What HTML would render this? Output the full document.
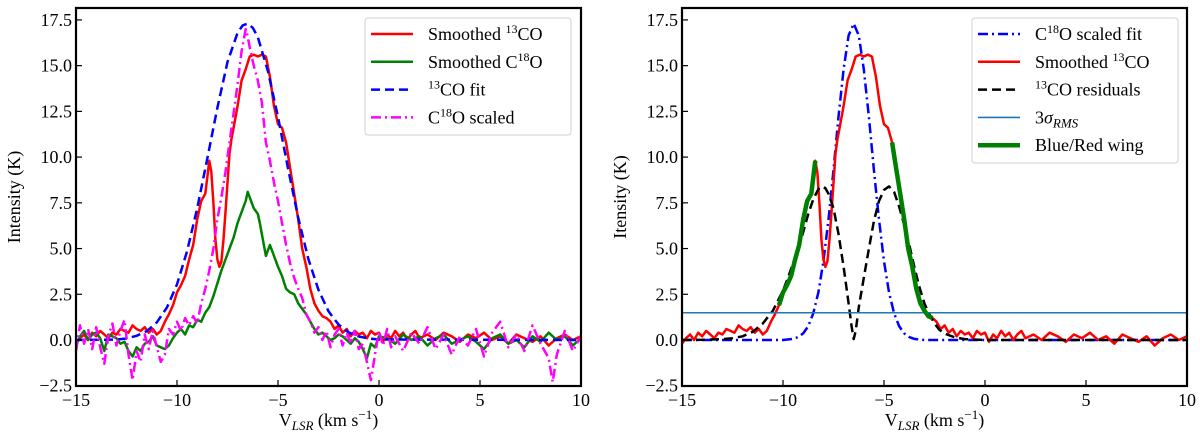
<!DOCTYPE html>
<html><head><meta charset="utf-8"><style>
body{margin:0;background:#fff;}
svg{display:block;font-family:"Liberation Serif",serif;}
</style></head><body>
<svg id="chart" width="1200" height="438" viewBox="0 0 1200 438" xmlns="http://www.w3.org/2000/svg"></svg>
<script>
const xTicks=[-15,-10,-5,0,5,10];
const xTickLabels=["\u221215","\u221210","\u22125","0","5","10"];
const yTicks=[-2.5,0,2.5,5,7.5,10,12.5,15,17.5];
const yTickLabels=["\u22122.5","0.0","2.5","5.0","7.5","10.0","12.5","15.0","17.5"];

const redV=[-15,-14.8,-14.6,-14.4,-14.2,-14,-13.8,-13.6,-13.4,-13.2,-13,-12.8,-12.6,-12.4,-12.2,-12,-11.8,-11.6,-11.4,-11.2,-11,-10.8,-10.6,-10.4,-10.2,-10,-9.8,-9.6,-9.4,-9.2,-9,-8.8,-8.6,-8.5,-8.4,-8.3,-8.2,-8.1,-8,-7.9,-7.8,-7.7,-7.6,-7.5,-7.4,-7.3,-7.2,-7.1,-7,-6.9,-6.8,-6.6,-6.4,-6.2,-6,-5.8,-5.6,-5.4,-5.2,-5,-4.8,-4.6,-4.4,-4.2,-4,-3.8,-3.6,-3.4,-3.2,-3,-2.8,-2.6,-2.4,-2.2,-2,-1.8,-1.6,-1.4,-1.2,-1,-0.8,-0.6,-0.4,-0.2,0,0.2,0.4,0.6,0.8,1,1.2,1.4,1.6,1.8,2,2.4,2.8,3.2,3.6,4,4.4,4.8,5.2,5.6,6,6.4,6.8,7.2,7.6,8,8.4,8.8,9.2,9.6,10];
const redI=[-0.2,0.1,0.3,0,0.4,0.2,0.5,0.3,0.1,0.4,0.3,0.6,0.5,0.4,0.8,0.6,0.5,0.7,0.4,0.6,0.3,0.5,1,1.4,1.9,2.6,3,3.5,4.4,5.2,6.6,7.6,8,8.9,9.8,9.2,7.5,5.5,4.4,4,4.3,5.5,7,8.6,10.2,11,11.6,12.2,12.8,13.5,14.2,14.8,15.5,15.6,15.5,15.6,15.5,14.4,12.8,11.8,11.6,10.8,9.4,8,6.6,5,4,2.8,2,1.6,1.3,1.2,1,0.6,0.8,0.4,0.6,0.2,0.5,0.3,0.4,0.1,0.5,0.3,0.4,-0.1,0.3,0.1,0.5,0.2,0.4,0,0.3,0.5,0.1,0.3,0,0.4,0.2,-0.1,0.3,0.1,0.4,0,0.2,-0.2,0.3,0.1,-0.1,0.2,-0.3,0.1,0.3,0,0.2];

const greenV=[-15,-14.8,-14.6,-14.4,-14.2,-14,-13.8,-13.6,-13.4,-13.2,-13,-12.8,-12.6,-12.4,-12.2,-12,-11.8,-11.6,-11.4,-11.2,-11,-10.8,-10.6,-10.4,-10.2,-10,-9.8,-9.6,-9.4,-9.2,-9,-8.8,-8.6,-8.4,-8.2,-8,-7.8,-7.6,-7.4,-7.2,-7,-6.8,-6.6,-6.5,-6.4,-6.2,-6,-5.9,-5.8,-5.6,-5.4,-5.2,-5,-4.8,-4.6,-4.4,-4.2,-4,-3.8,-3.6,-3.4,-3.2,-3,-2.8,-2.6,-2.4,-2.2,-2,-1.8,-1.6,-1.4,-1.2,-1,-0.8,-0.6,-0.4,-0.2,0,0.4,0.8,1.2,1.6,2,2.4,2.8,3.2,3.6,4,4.4,4.8,5.2,5.6,6,6.4,6.8,7.2,7.6,8,8.4,8.8,9.2,9.6,10];
const greenI=[-0.3,0.2,0.5,0,0.3,0.4,0.1,-0.6,0.3,0.2,0.1,-0.2,-0.1,-0.6,-0.9,-0.4,-0.6,-0.2,-0.1,0.2,-0.3,-0.4,-0.5,-0.3,0.1,0.4,0.6,0.3,0.8,0.7,1.1,1,1.5,1.8,2.4,3.1,3.8,4.4,5,5.6,6.4,7,7.6,8.1,7.8,7.2,6.9,6.4,5.8,4.6,5.2,4.6,4,3.5,2.8,2.6,2.5,2,1.7,1.4,1,0.6,0.3,0.4,0.2,0,0.1,0.3,0.2,0,-0.2,0.1,-0.1,-0.5,-1,-0.2,-0.4,0.2,0.1,-0.2,0.3,0,0.2,-0.3,0.1,0.3,-0.2,0,0.2,-0.1,-0.5,0.1,0.3,-0.2,0,-0.4,0.2,-0.1,0.4,0,0.2,-0.3,0.1];

const magV=[-15,-14.8,-14.6,-14.4,-14.2,-14,-13.8,-13.6,-13.4,-13.2,-13,-12.8,-12.6,-12.4,-12.2,-12,-11.8,-11.6,-11.4,-11.2,-11,-10.8,-10.6,-10.4,-10.2,-10,-9.8,-9.6,-9.4,-9.2,-9,-8.8,-8.6,-8.4,-8.2,-8,-7.8,-7.6,-7.4,-7.2,-7,-6.8,-6.6,-6.5,-6.4,-6.2,-6,-5.8,-5.6,-5.4,-5.2,-5,-4.8,-4.6,-4.4,-4.2,-4,-3.8,-3.6,-3.4,-3.2,-3,-2.8,-2.6,-2.4,-2.2,-2,-1.8,-1.6,-1.4,-1.2,-1,-0.8,-0.6,-0.4,-0.2,0,0.2,0.4,0.6,0.8,1.2,1.6,2,2.4,2.8,3.2,3.6,4,4.4,4.8,5.2,5.6,6,6.4,6.8,7.2,7.6,8,8.4,8.6,8.8,9.2,9.6,10];
const magI=[-0.6,0.8,-0.2,0.6,-0.5,0.7,-0.4,-1.3,0.2,0.9,-0.3,0.5,1.1,-0.8,-2.2,-0.6,-1.2,0.3,-0.5,0.5,-0.4,-1.2,-0.8,0.6,0.3,1,0.5,1.2,0.8,1.3,0.9,2,2.8,3.8,5,6.6,7.8,9.2,10.8,12.4,14,15.8,17,16.6,16,15,14.2,13,10.8,9.8,8.6,7.6,6.4,5.2,4.2,3.4,2.8,2.3,1.4,1,0.4,0.7,0,0.5,-0.4,0.3,0.6,-0.3,0.4,-0.2,0.5,-0.5,-0.2,-1.2,-2.2,-0.8,0.5,-0.3,0.6,-0.4,0.2,-0.6,0.4,-0.2,0.7,-0.5,0.3,-0.8,0.2,-0.3,0.6,-0.9,0.4,1,-0.4,0.3,-0.6,0.8,-0.2,-1,-2.3,-0.8,0.5,-0.6,0.2];

const fitV=[-15,-13,-12.5,-12,-11.5,-11,-10.5,-10,-9.5,-9,-8.5,-8,-7.5,-7,-6.75,-6.5,-6.25,-6,-5.5,-5,-4.5,-4,-3.5,-3,-2.5,-2,-1.5,-1,-0.5,0,10];
const fitI=[0,0.02,0.08,0.23,0.48,0.96,1.77,3.04,4.86,7.2,9.92,12.7,15.2,16.8,17.2,17.3,17.07,16.56,14.7,12.2,9.36,6.69,4.44,2.75,1.57,0.84,0.41,0.19,0.08,0.03,0];

const scFitV=[-15,-10,-9.5,-9.25,-9,-8.75,-8.5,-8.25,-8,-7.75,-7.5,-7.25,-7,-6.75,-6.5,-6.25,-6,-5.75,-5.5,-5.25,-5,-4.75,-4.5,-4.25,-4,-3.75,-3.5,-3,10];
const scFitI=[0,0,0.06,0.16,0.36,0.76,1.46,2.61,4.3,6.59,9.3,12.2,14.8,16.65,17.3,16.65,14.8,12.2,9.3,6.59,4.3,2.61,1.46,0.76,0.36,0.16,0.06,0,0];

const resV=[-15,-14,-13,-12.5,-12,-11.5,-11,-10.5,-10,-9.75,-9.5,-9.25,-9,-8.75,-8.5,-8.25,-8.1,-7.9,-7.75,-7.5,-7.25,-7,-6.75,-6.6,-6.5,-6.4,-6.25,-6,-5.75,-5.5,-5.25,-5,-4.75,-4.5,-4.25,-4,-3.75,-3.5,-3.25,-3,-2.75,-2.5,-2.25,-2,-1.5,-1,0,10];
const resI=[0,0.01,0.05,0.1,0.2,0.45,0.9,1.6,2.7,3.4,4.2,5,5.9,6.9,7.7,8.25,8.4,8.3,8,7.2,5.8,4,2,0.7,0.05,0.5,1.8,3.4,5,6.5,7.6,8.2,8.4,8.1,7.3,6.3,5.2,4,2.9,2,1.4,0.9,0.55,0.35,0.15,0.05,0,0];

const rmsLevel=[1.49];
const wingRanges=[[-10.3,-8.4],[-4.6,-2.55]];

const NS="http://www.w3.org/2000/svg";
const svg=document.getElementById('chart');
function mk(tag,attrs,parent){const e=document.createElementNS(NS,tag);for(const k in attrs)e.setAttribute(k,attrs[k]);(parent||svg).appendChild(e);return e;}

const Y0=340, YS=18.29, XS=20.2, YTOP=8, YBOT=386;
function yPix(v){return Y0-v*YS;}
function makeX(x0){return v=>x0+(v+15)*XS;}

function panel(x0,name,ylabel){
  const xs=makeX(x0), x1=xs(10);
  const g=mk('g',{});
  
  
  const cid='clip-'+name;
  const cp=mk('clipPath',{id:cid},g);mk('rect',{x:x0,y:YTOP,width:x1-x0,height:YBOT-YTOP},cp);
  const plot=mk('g',{'clip-path':'url(#'+cid+')'},g);
  
  
  xTicks.forEach((t,i)=>{
    const tk=mk('line',{x1:xs(t),x2:xs(t),y1:YBOT,y2:YBOT-6,stroke:'#000','stroke-width':1.2},g);
    
    
    const tl=mk('text',{x:xs(t),y:YBOT+20,'text-anchor':'middle','font-size':18},g);
    
    
    tl.textContent=xTickLabels[i];
  });
  yTicks.forEach((t,i)=>{
    const tk=mk('line',{x1:x0,x2:x0+6,y1:yPix(t),y2:yPix(t),stroke:'#000','stroke-width':1.2},g);
    
    
    const tl=mk('text',{x:x0-4,y:yPix(t)+6,'text-anchor':'end','font-size':18},g);
    
    
    tl.textContent=yTickLabels[i];
  });
  const xl=mk('text',{x:(x0+x1)/2,y:426,'text-anchor':'middle','font-size':18},g);
  
  
  xl.innerHTML='V<tspan font-size="13" font-style="italic" dy="4">LSR</tspan><tspan dy="-4"> (km s</tspan><tspan font-size="13" dy="-7">\u22121</tspan><tspan dy="7">)</tspan>';
  const yl=mk('text',{x:0,y:0,'text-anchor':'middle','font-size':18,transform:`translate(${x0-56},${(YTOP+YBOT)/2}) rotate(-90)`},g);
  
  
  yl.textContent=ylabel;
  return {xs,plot,g,x0,x1};
}
function series(p,V,I,style,nm,filter){
  let d='',pen=false;
  V.forEach((v,i)=>{
    const ok=!filter||filter(v);
    if(ok){d+=(pen?'L':'M')+p.xs(v).toFixed(1)+','+yPix(I[i]).toFixed(1);pen=true;}else pen=false;
  });
  const e=mk('path',Object.assign({d,fill:'none','stroke-linejoin':'round'},style),p.plot);
  
  
  return e;
}
function frame(p){
  const f=mk('rect',{x:p.x0,y:YTOP,width:p.x1-p.x0,height:YBOT-YTOP,fill:'none',stroke:'#000','stroke-width':2.2},p.g);
  
  
}
function legend(p,x,y,w,h,items,nm){
  const lg=mk('g',{},p.g);
  
  
  mk('rect',{x,y,width:w,height:h,rx:3,fill:'#fff','fill-opacity':0.85,stroke:'#d0d0d0','stroke-width':1},lg);
  items.forEach((it,i)=>{
    const cy=y+16+i*27.8;
    const e=mk('g',{},lg);
    
    
    mk('line',Object.assign({x1:x+6,x2:x+48,y1:cy,y2:cy},it.style),e);
    const t=mk('text',{x:x+63,y:cy+6,'font-size':18},e);
    t.innerHTML=it.label;
  });
}

const L=panel(76,'left-panel','Intensity (K)');
const redS={stroke:'#ff0000','stroke-width':2.5};
const greenS={stroke:'#008000','stroke-width':2.5};
const blueS={stroke:'#0000ff','stroke-width':2.5,'stroke-dasharray':'9,5'};
const magS={stroke:'#ff00ff','stroke-width':2.5,'stroke-dasharray':'10,4,2,4'};
series(L,redV,redI,redS,'smoothed-13co-line');
series(L,greenV,greenI,greenS,'smoothed-c18o-line');
series(L,fitV,fitI,blueS,'13co-fit-line');
series(L,magV,magI,magS,'c18o-scaled-line');
frame(L);
legend(L,365,18,206,117,[
 {style:redS,label:'Smoothed <tspan font-size="12" dy="-7">13</tspan><tspan dy="7">CO</tspan>'},
 {style:greenS,label:'Smoothed C<tspan font-size="12" dy="-7">18</tspan><tspan dy="7">O</tspan>'},
 {style:blueS,label:'<tspan font-size="12" dy="-7">13</tspan><tspan dy="7">CO fit</tspan>'},
 {style:magS,label:'C<tspan font-size="12" dy="-7">18</tspan><tspan dy="7">O scaled</tspan>'}
],'left-legend');

const R=panel(682,'right-panel','Itensity (K)');
const bdS={stroke:'#0000ff','stroke-width':2.5,'stroke-dasharray':'10,4,2,4'};
const blkS={stroke:'#000','stroke-width':2.5,'stroke-dasharray':'9,5'};
const rmsS={stroke:'#1f77b4','stroke-width':1.6};
const wingS={stroke:'#008000','stroke-width':4.5};
series(R,scFitV,scFitI,bdS,'c18o-scaled-fit-line');
series(R,redV,redI,redS,'smoothed-13co-line-right');
series(R,resV,resI,blkS,'13co-residuals-line');
const rl=mk('line',Object.assign({x1:R.x0,x2:R.x1,y1:yPix(rmsLevel[0]),y2:yPix(rmsLevel[0])},rmsS),R.plot);


wingRanges.forEach((r,k)=>{
  series(R,redV,redI,Object.assign({'stroke-linecap':'butt'},wingS),k?'red-wing':'blue-wing',v=>v>=r[0]&&v<=r[1]);
});
frame(R);
legend(R,972,18,206,145,[
 {style:bdS,label:'C<tspan font-size="12" dy="-7">18</tspan><tspan dy="7">O scaled fit</tspan>'},
 {style:redS,label:'Smoothed <tspan font-size="12" dy="-7">13</tspan><tspan dy="7">CO</tspan>'},
 {style:blkS,label:'<tspan font-size="12" dy="-7">13</tspan><tspan dy="7">CO residuals</tspan>'},
 {style:rmsS,label:'3<tspan font-style="italic">σ</tspan><tspan font-size="13" font-style="italic" dy="4">RMS</tspan>'},
 {style:wingS,label:'Blue/Red wing'}
],'right-legend');
</script>
</body></html>
